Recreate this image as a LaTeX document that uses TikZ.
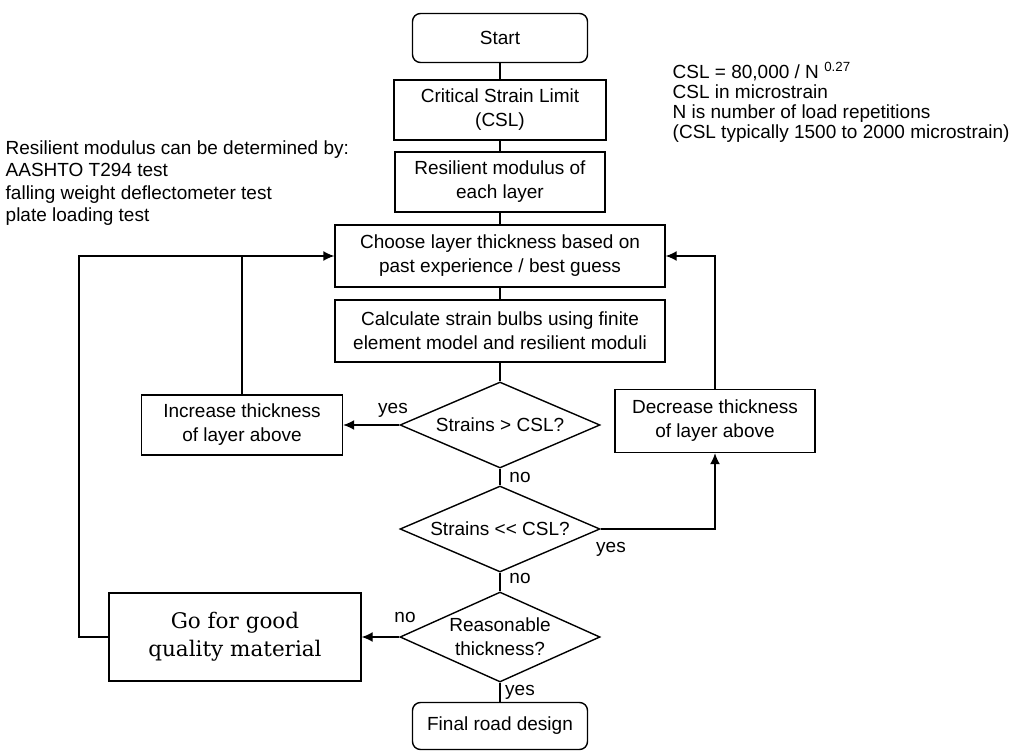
\documentclass[tikz,border=0pt]{standalone}
\usepackage{fontspec}
\setsansfont{Liberation Sans}
\newfontfamily\goodfont{DejaVu Serif}
\usetikzlibrary{shapes.geometric,arrows.meta}

\begin{document}
\begin{tikzpicture}[x=1pt,y=-1pt,line width=1.4pt,>={Latex[length=11pt,width=10pt]},
    font=\sffamily\fontsize{19}{24}\selectfont,
    box/.style={draw,rectangle,align=center,inner sep=0pt},
    endbox/.style={box,rounded corners=8pt},
    test/.style={draw,diamond,aspect=2.3,align=center,inner sep=0pt,minimum width=200pt,minimum height=86pt},
    note/.style={align=left,anchor=north west,inner sep=0pt,font=\sffamily\fontsize{19}{20}\selectfont}]
    \useasboundingbox (0,0) rectangle (1013,752);
    % main column
    \node (start) [endbox,minimum width=175pt,minimum height=49pt] at (500,38) {Start};
    \node (csl) [box,minimum width=212pt,minimum height=60pt] at (500,110) {Critical Strain Limit\\(CSL)};
    \node (resil) [box,minimum width=210pt,minimum height=60pt] at (500,182) {Resilient modulus of\\each layer};
    \node (choose) [box,minimum width=330pt,minimum height=62pt] at (500,256) {Choose layer thickness based on\\past experience / best guess};
    \node (calc) [box,minimum width=330pt,minimum height=62pt] at (500,331) {Calculate strain bulbs using finite\\element model and resilient moduli};
    \node (d1) [test] at (500,425) {Strains > CSL?};
    \node (d2) [test] at (500,529) {Strains <{}< CSL?};
    \node (d3) [test,minimum height=90pt] at (500,637) {Reasonable\\thickness?};
    \node (final) [endbox,minimum width=175pt,minimum height=47pt] at (500,726) {Final road design};
    % side boxes
    \node (incr) [box,minimum width=201pt,minimum height=60pt] at (242,425) {Increase thickness\\of layer above};
    \node (decr) [box,minimum width=200pt,minimum height=63pt] at (715,421) {Decrease thickness\\of layer above};
    \node (good) [box,minimum width=252pt,minimum height=88pt,font=\goodfont\fontsize{21.5}{28}\selectfont] at (235,637) {Go for good\\quality material};
    % notes
    \node (modnote) [note,font=\sffamily\fontsize{19}{22.5}\selectfont] at (5,140) {Resilient modulus can be determined by:\\AASHTO T294 test\\falling weight deflectometer test\\plate loading test};
    \node (cslnote) [note] at (672,62) {CSL = 80,000 / N \textsuperscript{0.27}\\CSL in microstrain\\N is number of load repetitions\\(CSL typically 1500 to 2000 microstrain)};
    % answers
    \node (yes1) at (393,410) {yes};
    \node (no1) at (520,477) {no};
    \node (yes2) at (611,549) {yes};
    \node (no2) at (520,578) {no};
    \node (no3) at (405,617) {no};
    \node (yes3) at (520,692) {yes};
    \coordinate (lc) at (79,637);
    \draw (start) -- (csl) (csl) -- (resil) (resil) -- (choose) (choose) -- (calc);
    \draw (calc.south) -- (d1.north) (d1.south) -- (d2.north) (d2.south) -- (d3.north);
    \draw (d3.south) -- (final.north);
    \draw[->] (d1.west) -- (incr.east);
    \draw[->] (d2.east) -| (decr.south);
    \draw[->] (decr.north) |- (choose.east);
    \draw[->] (d3.west) -- (good.east);
    \draw[->] (good.west) -- (lc) |- (choose.west);
    \draw (incr.north) -- (incr.north |- choose.west);
\end{tikzpicture}
\end{document}
